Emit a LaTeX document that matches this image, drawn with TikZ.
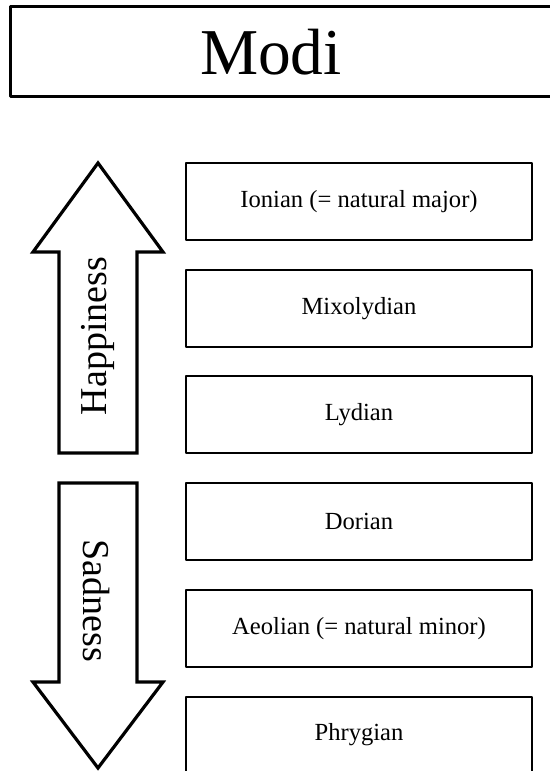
\documentclass[tikz,border=0pt]{standalone}
\usepackage{fontspec}
\setmainfont{Liberation Serif}
\usetikzlibrary{positioning}
\tikzset{
	modebox/.style={draw, line width=1pt, minimum width=173pt, minimum height=38.5pt, inner sep=0pt, font=\fontsize{12.3}{14}\selectfont},
	bigarrow/.style={draw, line width=1.6pt, line join=miter},
	moodtext/.style={font=\fontsize{19}{22}\selectfont, inner sep=0pt}
}
\begin{document}
\begin{tikzpicture}[x=0.5pt, y=-0.5pt, line join=round, line cap=round]
	\def \wl{33};
	\def \sl{59};
	\def \sr{137};
	\def \wr{163};
	\useasboundingbox (0,0) rectangle (550,771);
	\clip (0,0) rectangle (550,771);
	% title
	\draw[line width=1.5pt, line cap=butt] (10,6) rectangle (570,96);
	\node[font=\fontsize{32.7}{36}\selectfont] (title) at (271,52) {Modi};
	% the six modes
	\foreach \lbl [count=\i from 0] in {Ionian (= natural major), Mixolydian, Lydian, Dorian, Aeolian (= natural minor), Phrygian}
		\node[modebox] (mode\i) at (359, 201.5+106.7*\i) {\lbl};
	% up and down arrows
	\draw[bigarrow] (98,163) -- (\wr,252) -- (\sr,252) -- (\sr,453) -- (\sl,453) -- (\sl,252) -- (\wl,252) -- cycle;
	\draw[bigarrow] (98,768) -- (\wr,682) -- (\sr,682) -- (\sr,483) -- (\sl,483) -- (\sl,682) -- (\wl,682) -- cycle;
	\node[moodtext, rotate=90] (happy) at (98,336) {Happiness};
	\node[moodtext, rotate=-90] (sad) at (96,601) {Sadness};
\end{tikzpicture}
\end{document}
